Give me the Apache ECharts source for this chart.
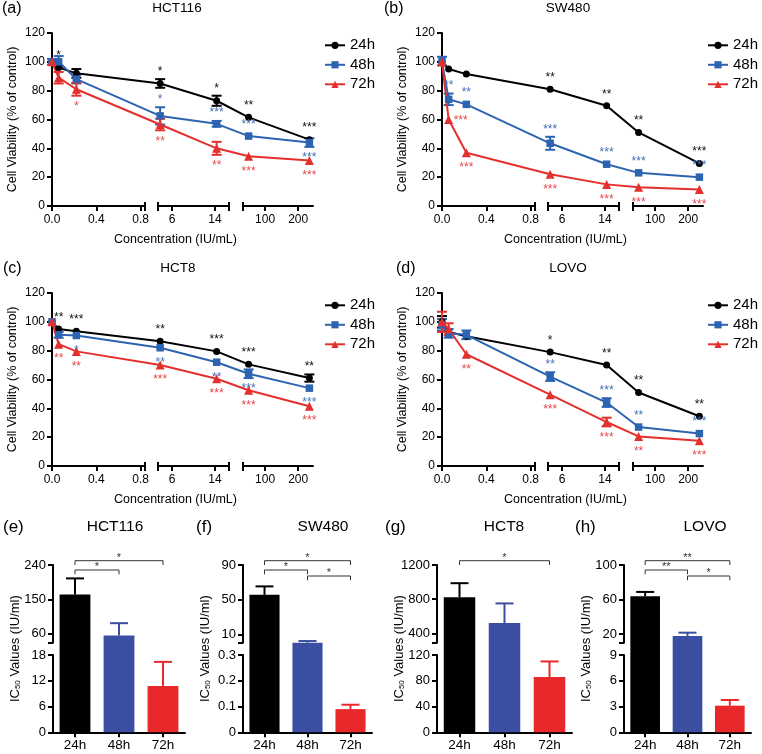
<!DOCTYPE html>
<html>
<head>
<meta charset="utf-8">
<title>Cell viability and IC50</title>
<script src="https://cdn.jsdelivr.net/npm/echarts@6.0.0/dist/echarts.min.js"></script>
<style>
  html, body { margin: 0; padding: 0; background: #fff; }
  #chart { width: 762px; height: 754px; }
</style>
</head>
<body>
<div id="chart"></div>
<script>
var times = ['24h', '48h', '72h']
var conc = [0, 0.06, 0.22, 3.8, 14.3, 50, 234]
var concTicks = [[0, 0.4, 0.8], [6, 14], [100, 200]]

var hct116Via24 = [100, 96, 92, 85, 73, 61.5, 46]
var hct116Sem24 = [1, 1, 3, 3, 3.5, 1, 1]
var hct116Sig24 = ['', '*', '', '*', '*', '**', '***']
var hct116Via48 = [100, 100, 88, 62.5, 57, 48.5, 44]
var hct116Sem48 = [2, 4, 3, 6, 2, 1, 3]
var hct116Sig48 = ['', '', '', '*', '***', '***', '***']
var hct116Via72 = [100, 89, 81, 56.5, 40, 34.5, 31.5]
var hct116Sem72 = [1, 4, 4.5, 4, 4.5, 1, 1]
var hct116Sig72 = ['', '', '*', '**', '**', '***', '***']

var sw480Via24 = [100, 95, 91.5, 81, 69.5, 51, 29.5]
var sw480Sem24 = [1, 1, 1, 1, 1, 1.5, 1]
var sw480Sig24 = ['', '', '', '**', '**', '**', '***']
var sw480Via48 = [100.5, 74, 70.5, 43.5, 29, 23, 20]
var sw480Sem48 = [3, 4, 1.5, 4.5, 1, 1, 1]
var sw480Sig48 = ['', '**', '**', '***', '***', '***', '***']
var sw480Via72 = [100, 60, 37, 22, 15, 13, 11.5]
var sw480Sem72 = [1, 1, 1, 1, 1, 1, 1]
var sw480Sig72 = ['', '***', '***', '***', '***', '***', '***']

var hct8Via24 = [100, 95, 93.5, 86.5, 79.5, 70.5, 61]
var hct8Sem24 = [1, 1, 1, 1, 1, 1, 2.5]
var hct8Sig24 = ['', '**', '***', '**', '***', '***', '**']
var hct8Via48 = [100, 91, 90.5, 82, 72, 64, 54]
var hct8Sem48 = [1, 2, 1, 1, 1, 3, 1]
var hct8Sig48 = ['', '', '*', '**', '**', '***', '***']
var hct8Via72 = [100, 84.5, 79.5, 70, 60.5, 52.5, 41.5]
var hct8Sem72 = [1, 1, 1, 1, 1, 1, 1]
var hct8Sig72 = ['', '**', '**', '***', '***', '***', '***']

var lovoVia24 = [100, 93, 90, 79, 70, 51, 34.5]
var lovoSem24 = [4, 1, 1, 1, 1, 1, 1]
var lovoSig24 = ['', '', '', '*', '**', '**', '**']
var lovoVia48 = [98, 92, 91, 62, 44, 27, 22.5]
var lovoSem48 = [4, 3, 3, 3, 3, 1, 1]
var lovoSig48 = ['', '', '', '**', '***', '**', '***']
var lovoVia72 = [100, 95, 77.5, 49.5, 30.5, 20.5, 17.5]
var lovoSem72 = [7, 4, 1, 1, 3, 1, 1]
var lovoSig72 = ['', '', '**', '***', '***', '**', '***']

var hct116Ic50 = [163, 56, 10.8]
var hct116Ic50Sem = [42, 32, 5.6]
var hct116Ic50Ticks = [[0, 6, 12, 18], [60, 150, 240]]
var hct116Ic50Sig = [[0, 2, '*'], [0, 1, '*']]

var sw480Ic50 = [55.8, 1.0, 0.09]
var sw480Ic50Sem = [9.7, 1.9, 0.017]
var sw480Ic50Ticks = [[0, 0.1, 0.2, 0.3], [10, 50, 90]]
var sw480Ic50Sig = [[0, 2, '*'], [0, 1, '*'], [1, 2, '*']]

var hct8Ic50 = [823, 520, 86]
var hct8Ic50Sem = [164, 230, 24]
var hct8Ic50Ticks = [[0, 40, 80, 120], [400, 800, 1200]]
var hct8Ic50Sig = [[0, 2, '*']]

var lovoIc50 = [63.8, 17.8, 3.1]
var lovoIc50Sem = [5, 3.8, 0.66]
var lovoIc50Ticks = [[0, 3, 6, 9], [20, 60, 100]]
var lovoIc50Sig = [[0, 2, '**'], [0, 1, '**'], [1, 2, '*']]

var FONT = '"Liberation Sans", Arial, Helvetica, sans-serif'
var lineColors = ['#000000', '#2c64b1', '#e4302c']
var starColors = ['#111111', '#4571b8', '#e9494d']
var barColors = ['#000000', '#3a4fa1', '#e8282b']
var symbols = ['circle', 'rect', 'triangle']
var symbolSizes = [7, 7.5, 9]

// broken x axis of the viability plots: data range -> px inside the plot
var lineSegs = [
  {min: 0, max: 0.84, from: 0, to: 93},
  {min: 3.4, max: 16.6, from: 106, to: 177},
  {min: 33, max: 245, from: 191, to: 261}
]
var lineW = 261
var lineH = 173

var linePanels = [
  {letter: '(a)', name: 'HCT116', left: 52, top: 33, letterX: 2, nameX: 177, legendX: 324,
    via: [hct116Via24, hct116Via48, hct116Via72], sem: [hct116Sem24, hct116Sem48, hct116Sem72],
    sig: [hct116Sig24, hct116Sig48, hct116Sig72], sides: ['uuuuuuu', 'uuuuuud', 'ddddddd']},
  {letter: '(b)', name: 'SW480', left: 442, top: 33, letterX: 384, nameX: 568, legendX: 707,
    via: [sw480Via24, sw480Via48, sw480Via72], sem: [sw480Sem24, sw480Sem48, sw480Sem72],
    sig: [sw480Sig24, sw480Sig48, sw480Sig72], sides: ['uuuuuuu', 'uuuuuuu', 'drddddd']},
  {letter: '(c)', name: 'HCT8', left: 52, top: 293, letterX: 3, nameX: 178, legendX: 324,
    via: [hct8Via24, hct8Via48, hct8Via72], sem: [hct8Sem24, hct8Sem48, hct8Sem72],
    sig: [hct8Sig24, hct8Sig48, hct8Sig72], sides: ['uuuuuuu', 'ddddddd', 'ddddddd']},
  {letter: '(d)', name: 'LOVO', left: 442, top: 293, letterX: 396, nameX: 568, legendX: 707,
    via: [lovoVia24, lovoVia48, lovoVia72], sem: [lovoSem24, lovoSem48, lovoSem72],
    sig: [lovoSig24, lovoSig48, lovoSig72], sides: ['uuuuuuu', 'uuuuuuu', 'ddddddd']}
]

// broken y axis of the IC50 plots
var barTop = 565
var upH = 77.7
var gapH = 12.3
var lowH = 77.3
var bracketOffset = {'0-2': 4.3, '0-1': -5, '1-2': -11}

var barPanels = [
  {letter: '(e)', name: 'HCT116', left: 53, width: 132, letterX: 3, nameX: 115,
    low: 18, up: [37, 240], ic: hct116Ic50, sem: hct116Ic50Sem, ticks: hct116Ic50Ticks, sig: hct116Ic50Sig},
  {letter: '(f)', name: 'SW480', left: 243, width: 129, letterX: 196, nameX: 323,
    low: 0.3, up: [1, 90], ic: sw480Ic50, sem: sw480Ic50Sem, ticks: sw480Ic50Ticks, sig: sw480Ic50Sig},
  {letter: '(g)', name: 'HCT8', left: 437, width: 135, letterX: 385, nameX: 504,
    low: 120, up: [290, 1200], ic: hct8Ic50, sem: hct8Ic50Sem, ticks: hct8Ic50Ticks, sig: hct8Ic50Sig},
  {letter: '(h)', name: 'LOVO', left: 624, width: 127, letterX: 575, nameX: 705,
    low: 9, up: [10, 100], ic: lovoIc50, sem: lovoIc50Sem, ticks: lovoIc50Ticks, sig: lovoIc50Sig}
]

function pieceScale (segs) {
  return function (v) {
    var k = 0
    while (k < segs.length - 1 && v > segs[k].max) k++
    var s = segs[k]
    if (k > 0 && v < s.min) {
      var p = segs[k - 1]
      return p.to + (v - p.max) / (s.min - p.max) * (s.from - p.to)
    }
    return s.from + (v - s.min) / (s.max - s.min) * (s.to - s.from)
  }
}

function axisLineStyle () {
  return {show: true, onZero: false, lineStyle: {color: '#000', width: 2}}
}

function tickStyle (values) {
  var t = {show: true, length: 5, lineStyle: {color: '#000', width: 2}}
  if (values) t.customValues = values
  return t
}

function addText (opt, text, x, y, size) {
  opt.graphic.push({
    type: 'text', x: x, y: y, silent: true,
    style: {text: text, fill: '#000', fontSize: size, fontFamily: FONT,
      align: 'left', verticalAlign: 'middle', textAlign: 'left', textVerticalAlign: 'middle'}
  })
}

function addCenterText (opt, text, x, y, size) {
  opt.graphic.push({
    type: 'text', x: x, y: y, silent: true,
    style: {text: text, fill: '#000', fontSize: size, fontFamily: FONT,
      align: 'center', verticalAlign: 'middle', textAlign: 'center', textVerticalAlign: 'middle'}
  })
}

function semBars (color, half, upOnly, minPx) {
  return function (params, api) {
    var cx = api.value(0)
    var v = api.value(1)
    var e = api.value(2)
    var hi = api.coord([cx, v + e])
    var lo = api.coord([cx, upOnly ? v : v - e])
    if (!upOnly && (lo[1] - hi[1]) / 2 < minPx) return
    var st = {stroke: color, lineWidth: 2}
    var kids = [
      {type: 'line', shape: {x1: hi[0], y1: hi[1], x2: lo[0], y2: lo[1]}, style: st},
      {type: 'line', shape: {x1: hi[0] - half, y1: hi[1], x2: hi[0] + half, y2: hi[1]}, style: st}
    ]
    if (!upOnly) {
      kids.push({type: 'line', shape: {x1: lo[0] - half, y1: lo[1], x2: lo[0] + half, y2: lo[1]}, style: st})
    }
    return {type: 'group', children: kids}
  }
}

function sigMarks (sig, sides, color) {
  return function (params, api) {
    var text = sig[params.dataIndex]
    if (!text) return
    var side = sides.charAt(params.dataIndex)
    var cx = api.value(0)
    var v = api.value(1)
    var e = api.value(2)
    var pt = api.coord([cx, v])
    var off = Math.max(pt[1] - api.coord([cx, v + e])[1], 4)
    var px = pt[0]
    var py
    if (side === 'd') {
      py = pt[1] + off + 11
    } else if (side === 'r') {
      px += 12
      py = pt[1] + 1
    } else {
      py = pt[1] - off - 7.5
    }
    return {
      type: 'text', x: px, y: py,
      style: {text: text, fill: color, fontSize: 12, fontFamily: FONT,
        align: 'center', verticalAlign: 'middle', textAlign: 'center', textVerticalAlign: 'middle'}
    }
  }
}

function addLinePanel (opt, p) {
  var x = pieceScale(lineSegs)
  var g = opt.grid.length
  opt.grid.push({left: p.left, top: p.top, width: lineW, height: lineH, outerBoundsMode: 'none'})
  opt.xAxis.push({
    gridIndex: g, type: 'value', min: 0, max: lineW,
    name: 'Concentration (IU/mL)', nameLocation: 'middle', nameGap: 27,
    nameTextStyle: {fontFamily: FONT, fontSize: 12.5, color: '#000', padding: [0, 14, 0, 0]},
    axisLine: {show: false}, axisTick: {show: false}, axisLabel: {show: false}, splitLine: {show: false}
  })
  opt.yAxis.push({
    gridIndex: g, type: 'value', min: 0, max: 120, interval: 20,
    name: 'Cell Viability (% of control)', nameLocation: 'middle', nameGap: 33,
    nameTextStyle: {fontFamily: FONT, fontSize: 12.5, color: '#000'},
    axisLine: axisLineStyle(), axisTick: tickStyle(),
    axisLabel: {fontFamily: FONT, fontSize: 12, color: '#000', margin: 7},
    splitLine: {show: false}
  })

  lineSegs.forEach(function (s, k) {
    var caps = []
    if (k > 0) caps.push(s.min)
    if (k < lineSegs.length - 1) caps.push(s.max)
    var gi = opt.grid.length
    opt.grid.push({left: p.left + s.from, top: p.top, width: s.to - s.from, height: lineH, outerBoundsMode: 'none'})
    opt.xAxis.push({
      gridIndex: gi, type: 'value', min: s.min, max: s.max,
      axisLine: axisLineStyle(), axisTick: tickStyle(concTicks[k].concat(caps)),
      axisLabel: {
        customValues: concTicks[k], fontFamily: FONT, fontSize: 12, color: '#000', margin: 8,
        formatter: function (v) { return k === 0 ? v.toFixed(1) : String(v) }
      },
      splitLine: {show: false}
    })
    opt.yAxis.push({gridIndex: gi, type: 'value', min: 0, max: 120, show: false})

    // upper half of the break caps
    var gc = opt.grid.length
    opt.grid.push({left: p.left + s.from, top: p.top, width: s.to - s.from, height: lineH, outerBoundsMode: 'none'})
    opt.xAxis.push({
      gridIndex: gc, type: 'value', min: s.min, max: s.max,
      axisLine: {show: false, onZero: false},
      axisTick: {show: true, inside: true, length: 4, customValues: caps, lineStyle: {color: '#000', width: 2}},
      axisLabel: {show: false}, splitLine: {show: false}
    })
    opt.yAxis.push({gridIndex: gc, type: 'value', min: 0, max: 120, show: false})
  })

  times.forEach(function (t, i) {
    var data = conc.map(function (c, j) { return [x(c), p.via[i][j], p.sem[i][j]] })
    opt.series.push({
      type: 'line', name: t, xAxisIndex: g, yAxisIndex: g, data: data,
      symbol: symbols[i], symbolSize: symbolSizes[i], showSymbol: true,
      lineStyle: {color: lineColors[i], width: 2}, itemStyle: {color: lineColors[i]}, z: 2
    })
    opt.series.push({
      type: 'custom', name: t + ' sem', xAxisIndex: g, yAxisIndex: g, data: data,
      renderItem: semBars(lineColors[i], 5, false, 2.5), z: 2
    })
    opt.series.push({
      type: 'custom', name: t + ' sig', xAxisIndex: g, yAxisIndex: g, data: data,
      renderItem: sigMarks(p.sig[i], p.sides[i], starColors[i]), z: 4
    })
  })

  opt.legend.push({
    data: times, orient: 'vertical', left: p.legendX, top: p.top + 4.8,
    itemWidth: 20, itemHeight: 9, itemGap: 4.5, padding: 0, selectedMode: false,
    textStyle: {fontFamily: FONT, fontSize: 15, color: '#000'}
  })
  addText(opt, p.letter, p.letterX, p.top - 24.5, 16)
  addCenterText(opt, p.name, p.nameX, p.top - 24.5, 13.5)
}

function addBarPanel (opt, p) {
  var H = upH + gapH + lowH
  var y = pieceScale([
    {min: 0, max: p.low, from: 0, to: lowH},
    {min: p.up[0], max: p.up[1], from: lowH + gapH, to: H}
  ])
  var g = opt.grid.length
  opt.grid.push({left: p.left, top: barTop, width: p.width, height: H, outerBoundsMode: 'none'})
  opt.xAxis.push({
    gridIndex: g, type: 'category', data: times,
    axisLine: axisLineStyle(), axisTick: {show: true, alignWithLabel: true, length: 5, lineStyle: {color: '#000', width: 2}},
    axisLabel: {fontFamily: FONT, fontSize: 13.5, color: '#000', margin: 6},
    splitLine: {show: false}
  })
  opt.yAxis.push({
    gridIndex: g, type: 'value', min: 0, max: H,
    name: '{n|IC}{s|50}{n| Values (IU/ml)}', nameLocation: 'middle', nameGap: 31,
    nameTextStyle: {
      fontFamily: FONT, fontSize: 13, color: '#000',
      rich: {
        n: {fontFamily: FONT, fontSize: 13, color: '#000'},
        s: {fontFamily: FONT, fontSize: 8, color: '#000', verticalAlign: 'bottom'}
      }
    },
    axisLine: {show: false}, axisTick: {show: false}, axisLabel: {show: false}, splitLine: {show: false}
  })

  var parts = [
    {top: barTop, height: upH, min: p.up[0], max: p.up[1], ticks: p.ticks[1], caps: [p.up[0]]},
    {top: barTop + upH + gapH, height: lowH, min: 0, max: p.low, ticks: p.ticks[0], caps: []}
  ]
  parts.forEach(function (s) {
    var gi = opt.grid.length
    opt.grid.push({left: p.left, top: s.top, width: 10, height: s.height, outerBoundsMode: 'none'})
    opt.xAxis.push({gridIndex: gi, type: 'value', show: false})
    opt.yAxis.push({
      gridIndex: gi, type: 'value', min: s.min, max: s.max,
      axisLine: axisLineStyle(), axisTick: tickStyle(s.ticks.concat(s.caps)),
      axisLabel: {customValues: s.ticks, fontFamily: FONT, fontSize: 13, color: '#000', margin: 7,
        formatter: function (v) { return String(v) }},
      splitLine: {show: false}
    })
  })

  opt.series.push({
    type: 'bar', xAxisIndex: g, yAxisIndex: g, barWidth: '70%',
    data: p.ic.map(function (v, i) { return {value: y(v), itemStyle: {color: barColors[i]}} }), z: 2
  })
  p.ic.forEach(function (v, i) {
    opt.series.push({
      type: 'custom', xAxisIndex: g, yAxisIndex: g,
      data: [[i, y(v), y(v + p.sem[i]) - y(v)]],
      renderItem: semBars(barColors[i], 9, true, 0), z: 1
    })
  })
  opt.series.push({
    type: 'custom', xAxisIndex: g, yAxisIndex: g,
    data: p.sig.map(function (s) { return [s[0], s[1], H + bracketOffset[s[0] + '-' + s[1]]] }),
    renderItem: function (params, api) {
      var a = api.coord([api.value(0), api.value(2)])
      var b = api.coord([api.value(1), api.value(2)])
      var st = {stroke: '#333', lineWidth: 1, fill: null}
      return {type: 'group', children: [
        {type: 'polyline', shape: {points: [[a[0], a[1] + 4.3], a, b, [b[0], b[1] + 4.3]]}, style: st},
        {type: 'text', x: (a[0] + b[0]) / 2, y: a[1] - 3,
          style: {text: p.sig[params.dataIndex][2], fill: '#333', fontSize: 11, fontFamily: FONT,
            align: 'center', verticalAlign: 'middle', textAlign: 'center', textVerticalAlign: 'middle'}}
      ]}
    },
    z: 3
  })

  addText(opt, p.letter, p.letterX, 527, 17)
  addCenterText(opt, p.name, p.nameX, 527, 15.5)
}

var chart = echarts.init(document.getElementById('chart'))
var option = {
  animation: false, backgroundColor: '#fff', textStyle: {fontFamily: FONT},
  grid: [], xAxis: [], yAxis: [], series: [], legend: [], graphic: []
}
linePanels.forEach(function (p) { addLinePanel(option, p) })
barPanels.forEach(function (p) { addBarPanel(option, p) })
chart.setOption(option)
</script>
</body>
</html>
